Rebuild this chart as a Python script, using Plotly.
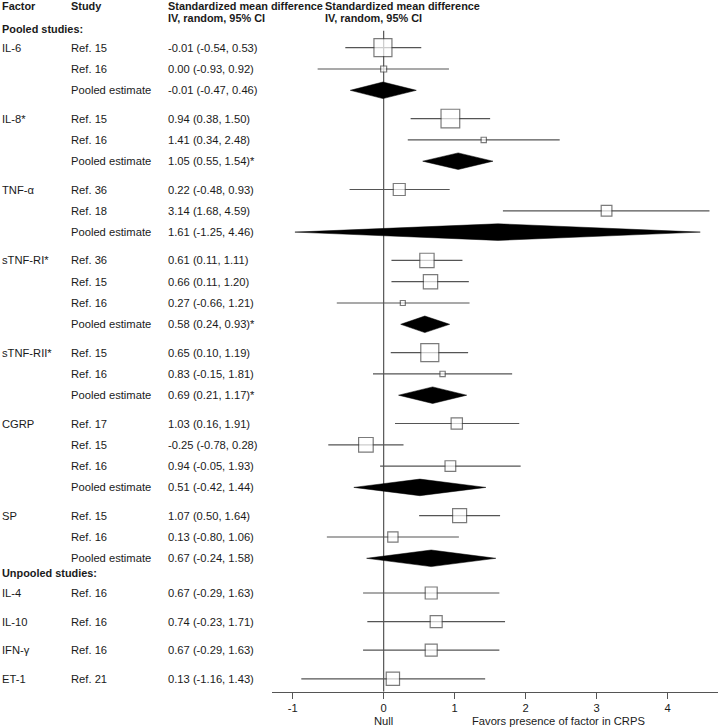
import plotly.graph_objects as go

# ---------------- data ----------------
pooled_factors = ["IL-6", "IL-8*", "TNF-α", "sTNF-RI*", "sTNF-RII*", "CGRP", "SP"]
study_refs = [["Ref. 15", "Ref. 16"], ["Ref. 15", "Ref. 16"], ["Ref. 36", "Ref. 18"],
              ["Ref. 36", "Ref. 15", "Ref. 16"], ["Ref. 15", "Ref. 16"],
              ["Ref. 17", "Ref. 15", "Ref. 16"], ["Ref. 15", "Ref. 16"]]
study_smd = [[-0.01, 0.00], [0.94, 1.41], [0.22, 3.14], [0.61, 0.66, 0.27],
             [0.65, 0.83], [1.03, -0.25, 0.94], [1.07, 0.13]]
study_lo = [[-0.54, -0.93], [0.38, 0.34], [-0.48, 1.68], [0.11, 0.11, -0.66],
            [0.10, -0.15], [0.16, -0.78, -0.05], [0.50, -0.80]]
study_hi = [[0.53, 0.92], [1.50, 2.48], [0.93, 4.59], [1.11, 1.20, 1.21],
            [1.19, 1.81], [1.91, 0.28, 1.93], [1.64, 1.06]]
pooled_smd = [-0.01, 1.05, 1.61, 0.58, 0.69, 0.51, 0.67]
pooled_lo = [-0.47, 0.55, -1.25, 0.24, 0.21, -0.42, -0.24]
pooled_hi = [0.46, 1.54, 4.46, 0.93, 1.17, 1.44, 1.58]
pooled_sig = [False, True, False, True, True, False, False]

unpooled_factors = ["IL-4", "IL-10", "IFN-γ", "ET-1"]
unpooled_refs = ["Ref. 16", "Ref. 16", "Ref. 16", "Ref. 21"]
unpooled_smd = [0.67, 0.74, 0.67, 0.13]
unpooled_lo = [-0.29, -0.23, -0.29, -1.16]
unpooled_hi = [1.63, 1.71, 1.63, 1.43]

tick_labels = ["-1", "0", "1", "2", "3", "4"]

# ---------------- style / layout ----------------
study_box_px = [[18, 6], [18.7, 5.3], [12, 10.7], [14.3, 14.3, 5], [18, 5.3],
                [11.3, 14.6, 10.7], [14, 10.3]]
unpooled_box_px = [12, 12, 12, 13.3]

W, H = 720, 728
FONT = "Arial, Liberation Sans, Helvetica, sans-serif"
TXT = "#1a1a1a"
LINE = "#555555"
FS = 11.2
FS_HDR = 10.9

Y_FIRST, STEP, GAP = 47.7, 21.3, 7.0
Y_UNPOOLED_HDR, Y_UNPOOLED0, STEP_U = 573, 593, 28.6
AXIS_Y = 691.7
X_LEFT_PX, X_RIGHT_PX = 271.7, 718
X_MIN, X_MAX = -1.577, 4.71
DIAM_H = 8.3

col_factor, col_study, col_ci, col_hdr2 = 0, 69, 166, 323

annotations = []


def txt(xpx, y, s, bold=False, yref="y", size=FS, xanchor="left"):
    annotations.append(dict(
        x=xpx / W, xref="paper", y=y, yref=yref, text=f"<b>{s}</b>" if bold else s,
        showarrow=False, xanchor=xanchor, yanchor="middle",
        font=dict(family=FONT, size=size, color=TXT)))


def fmt(e, lo, hi):
    return f"{e:.2f} ({lo:.2f}, {hi:.2f})"


# headers
txt(col_factor, 6, "Factor", bold=True, size=FS_HDR)
txt(col_study, 6, "Study", bold=True, size=FS_HDR)
txt(col_ci, 6, "Standardized mean difference", bold=True, size=FS_HDR)
txt(col_ci, 17.5, "IV, random, 95% CI", bold=True, size=FS_HDR)
txt(col_hdr2, 6, "Standardized mean difference", bold=True, size=FS_HDR)
txt(col_hdr2, 17.5, "IV, random, 95% CI", bold=True, size=FS_HDR)
txt(col_factor, 29, "Pooled studies:", bold=True, size=FS_HDR)

ci_x, ci_y = [], []
box_x, box_y, box_s = [], [], []
fig = go.Figure()

row = 0
diamonds = []
for g, fac in enumerate(pooled_factors):
    ys = []
    for i, ref in enumerate(study_refs[g]):
        y = Y_FIRST + row * STEP + g * GAP
        ys.append(y)
        txt(col_study, y, ref)
        txt(col_ci, y, fmt(study_smd[g][i], study_lo[g][i], study_hi[g][i]))
        ci_x += [study_lo[g][i], study_hi[g][i], None]
        ci_y += [y, y, None]
        box_x.append(study_smd[g][i])
        box_y.append(y)
        box_s.append(study_box_px[g][i])
        row += 1
    y = Y_FIRST + row * STEP + g * GAP
    txt(col_study, y, "Pooled estimate")
    txt(col_ci, y, fmt(pooled_smd[g], pooled_lo[g], pooled_hi[g]) + ("*" if pooled_sig[g] else ""))
    diamonds.append((pooled_lo[g], pooled_smd[g], pooled_hi[g], y))
    row += 1
    txt(col_factor, ys[0], fac)

txt(col_factor, Y_UNPOOLED_HDR, "Unpooled studies:", bold=True, size=FS_HDR)
for i, fac in enumerate(unpooled_factors):
    y = Y_UNPOOLED0 + i * STEP_U
    txt(col_factor, y, fac)
    txt(col_study, y, unpooled_refs[i])
    txt(col_ci, y, fmt(unpooled_smd[i], unpooled_lo[i], unpooled_hi[i]))
    ci_x += [unpooled_lo[i], unpooled_hi[i], None]
    ci_y += [y, y, None]
    box_x.append(unpooled_smd[i])
    box_y.append(y)
    box_s.append(unpooled_box_px[i])

# CI whiskers
fig.add_trace(go.Scatter(x=ci_x, y=ci_y, mode="lines",
                         line=dict(color=LINE, width=1.2), hoverinfo="skip"))
# study squares
fig.add_trace(go.Scatter(x=box_x, y=box_y, mode="markers",
                         marker=dict(symbol="square", size=box_s, color="white",
                                     line=dict(color="#444444", width=1.2)),
                         hoverinfo="skip"))
# pooled diamonds
for lo, e, hi, y in diamonds:
    fig.add_trace(go.Scatter(x=[lo, e, hi, e, lo], y=[y, y - DIAM_H, y, y + DIAM_H, y],
                             mode="lines", fill="toself", fillcolor="black",
                             line=dict(color="black", width=0.5), hoverinfo="skip"))

# null line
fig.add_shape(type="line", xref="x", yref="y", x0=0, x1=0, y0=30.7, y1=AXIS_Y,
              line=dict(color=LINE, width=1.2), layer="below")

# bottom labels
annotations.append(dict(x=0, xref="x", y=(H - 721) / H, yref="paper", text="Null",
                        showarrow=False, xanchor="center", yanchor="middle",
                        font=dict(family=FONT, size=FS, color=TXT)))
annotations.append(dict(x=558.5 / W, xref="paper", y=(H - 721) / H, yref="paper",
                        text="Favors presence of factor in CRPS", showarrow=False,
                        xanchor="center", yanchor="middle",
                        font=dict(family=FONT, size=FS, color=TXT)))

# the -1 tick sits a little further left than a linear scale would put it in the original
tick_vals = [-1.28, 0, 1, 2, 3, 4]

fig.update_layout(
    width=W, height=H, margin=dict(l=0, r=0, t=0, b=0),
    paper_bgcolor="white", plot_bgcolor="white", showlegend=False,
    annotations=annotations,
    xaxis=dict(domain=[X_LEFT_PX / W, X_RIGHT_PX / W], range=[X_MIN, X_MAX],
               showgrid=False, zeroline=False, showline=True, linecolor=LINE, linewidth=1.2,
               ticks="outside", ticklen=6, tickcolor=LINE, tickwidth=1.2,
               tickvals=tick_vals, ticktext=tick_labels,
               tickfont=dict(family=FONT, size=FS, color=TXT), fixedrange=True),
    yaxis=dict(domain=[(H - AXIS_Y) / H, 1], range=[AXIS_Y, 0], visible=False,
               showgrid=False, zeroline=False, fixedrange=True),
)

fig.write_html("out.html", config={"displayModeBar": False},
               post_script="document.body.style.margin='0';document.body.style.overflow='hidden';")
